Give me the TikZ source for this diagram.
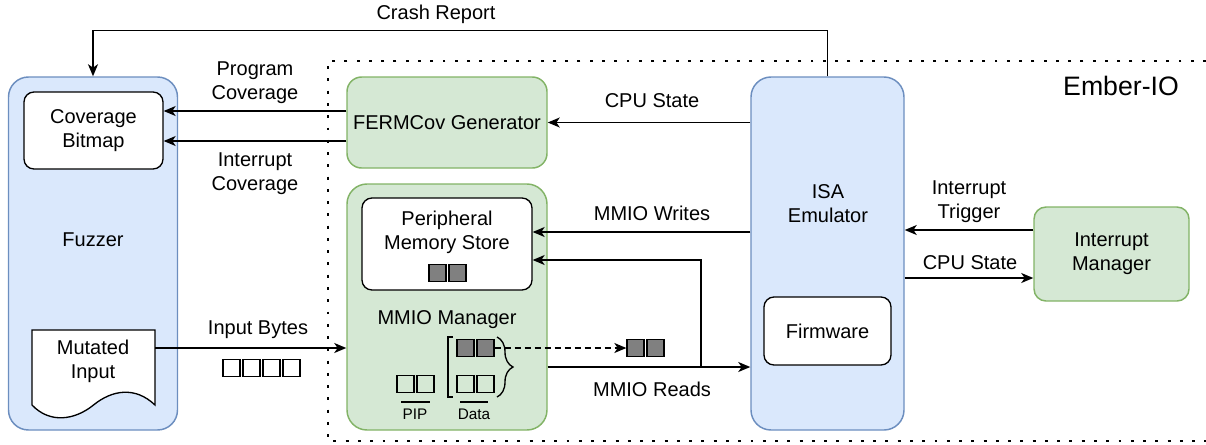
\documentclass[tikz,border=0pt]{standalone}
\usepackage{fontspec}
\setmainfont{Liberation Sans}
\usetikzlibrary{arrows.meta,decorations.pathreplacing}
\definecolor{bluefill}{HTML}{DAE8FC}
\definecolor{bluedraw}{HTML}{6C8EBF}
\definecolor{greenfill}{HTML}{D5E8D4}
\definecolor{greendraw}{HTML}{82B366}
\definecolor{bytegray}{HTML}{808080}
\def\pxl#1{#1*0.75pt}
\begin{document}
\begin{tikzpicture}[x=0.75pt, y=-0.75pt,
   every node/.style={font=\fontsize{15}{18}\selectfont, align=center},
   bluebox/.style={draw=bluedraw, fill=bluefill, rounded corners=15pt, line width=1.1pt, inner sep=0pt},
   greenbox/.style={draw=greendraw, fill=greenfill, rounded corners=#1, line width=1.1pt, inner sep=0pt},
   whitebox/.style={draw=black, fill=white, rounded corners=7.5pt, line width=1pt, inner sep=0pt},
   arr/.style={line width=1pt, -{Stealth[length=9pt, width=7.5pt, inset=2.5pt]}},
   byte/.style={draw, line width=1pt, minimum size=\pxl{17}, inner sep=0pt},
   fullbyte/.style={byte, fill=bytegray},
   small/.style={font=\fontsize{11.5}{13.5}\selectfont}]
\useasboundingbox (0,0) rectangle (1206,444);

% Ember-IO frame
\draw[line width=2.2pt, dash pattern=on 2.2pt off 7pt] (1206,61) -- (328,61) -- (328,441) -- (1206,441);
\node[font=\fontsize{20}{24}\selectfont] (ember) at (1121,86) {Ember-IO};

% fuzzer side
\node[bluebox, minimum width=\pxl{169}, minimum height=\pxl{353}] (fuzzer) at (93,253.5) {};
\node (fuzzer-lbl) at (93,240) {Fuzzer};
\node[whitebox, minimum width=\pxl{139}, minimum height=\pxl{77}] (bitmap) at (93.5,130.5) {Coverage\\Bitmap};
\draw[fill=white, line width=1pt] (32,330) -- (155,330) -- (155,405)
   .. controls (135,386) and (112,390) .. (93.5,405)
   .. controls (75,420) and (50,424) .. (32,405) -- cycle;
\node (mutated) at (93,361) {Mutated\\Input};
\coordinate (doc-out) at (155,348);

% emulator parts
\node[greenbox=11pt, minimum width=\pxl{200}, minimum height=\pxl{91}] (fermcov) at (447,122.5) {FERMCov Generator};
\node[greenbox=15pt, minimum width=\pxl{200}, minimum height=\pxl{246}] (mmio) at (447,307) {};
\node[whitebox, minimum width=\pxl{170}, minimum height=\pxl{92}] (pms) at (447,244) {};
\node (pms-lbl) at (447,232) {Peripheral\\Memory Store};
\node (mmio-lbl) at (447,320) {MMIO Manager};
\node[bluebox, minimum width=\pxl{153}, minimum height=\pxl{353}] (isa) at (827.5,253.5) {};
\node (isa-lbl) at (828,204) {ISA\\Emulator};
\node[whitebox, minimum width=\pxl{127}, minimum height=\pxl{68}] (firmware) at (827.5,331) {Firmware};
\node[greenbox=9pt, minimum width=\pxl{155}, minimum height=\pxl{94}] (intman) at (1111.5,254) {Interrupt\\Manager};

% bytes
\foreach \i/\x in {1/437.5,2/457.5}
   \node[fullbyte] (pms-b\i) at (\x,273) {};
\foreach \i/\x in {1/231.5,2/251.5,3/271.5,4/291.5}
   \node[byte] (in-b\i) at (\x,368) {};
\foreach \i/\x in {1/405.5,2/425.5}
   \node[byte] (pip-b\i) at (\x,384) {};
\foreach \i/\x in {1/465.5,2/485.5}{
   \node[fullbyte] (dtop-b\i) at (\x,348) {};
   \node[byte] (dbot-b\i) at (\x,384) {};
   }
\foreach \i/\x in {1/635.5,2/655.5}
   \node[fullbyte] (out-b\i) at (\x,348) {};

\draw[line width=1pt] (401,402) -- (430,402);
\draw[line width=1pt] (460,402) -- (488,402);
\node[small] (pip-lbl) at (415,414) {PIP};
\node[small] (data-lbl) at (474,414) {Data};
\draw[line width=1pt] (453,337) -- (448,337) -- (448,397) -- (453,397);
\draw[line width=1pt, decorate, decoration={brace, amplitude=12pt}] (497,337) -- (497,397);
\draw[arr, dashed, dash pattern=on 4.5pt off 3pt] (dtop-b2.east) -- (out-b1.west);

% connectors
\draw[arr] (isa.north) -- ++(0,-46) -| (fuzzer.north);
\node (crash-lbl) at (436,14) {Crash Report};
\draw[arr] (fermcov.west |- 0,111) -- (bitmap.east |- 0,111);
\draw[arr] (fermcov.west |- 0,141) -- (bitmap.east |- 0,141);
\node (prog-lbl) at (255,83) {Program\\Coverage};
\node (intcov-lbl) at (255,174) {Interrupt\\Coverage};
\draw[arr] (isa.west |- fermcov.east) -- (fermcov.east);
\node (cpu-lbl) at (652,101) {CPU State};
\draw[arr] (isa.west |- 0,232) -- (pms.east |- 0,232);
\node (writes-lbl) at (652,213) {MMIO Writes};
\coordinate (split) at (701,367);
\draw[arr] (mmio.east |- split) -- (isa.west |- split);
\draw[arr] (split) |- (pms.east |- 0,260);
\node (reads-lbl) at (652,389) {MMIO Reads};
\draw[arr] (doc-out) -- (mmio.west |- doc-out);
\node (input-lbl) at (258,330) {Input Bytes};
\draw[arr] (intman.west |- 0,230) -- (isa.east |- 0,230);
\node (trig-lbl) at (969,202) {Interrupt\\Trigger};
\draw[arr] (isa.east |- 0,278) -- (intman.west |- 0,278);
\node (cpu2-lbl) at (970,263) {CPU State};
\end{tikzpicture}
\end{document}
